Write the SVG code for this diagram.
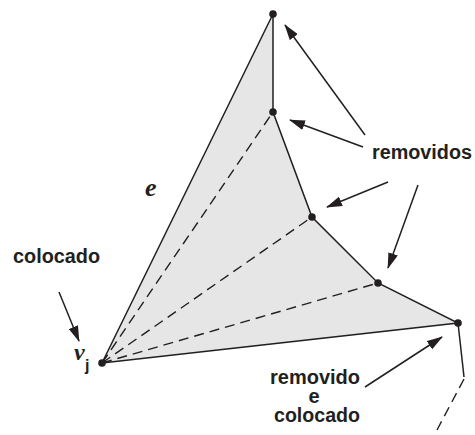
<svg xmlns="http://www.w3.org/2000/svg" width="475" height="435" viewBox="0 0 475 435">
<style>
.edge{stroke:#231f20;stroke-width:1.5;fill:none}
.dash{stroke:#231f20;stroke-width:1.4;fill:none;stroke-dasharray:10 6}
.arr{stroke:#231f20;stroke-width:1.5;fill:none;marker-end:url(#ah)}
.lbl{font-family:"Liberation Sans",Arial,sans-serif;font-weight:bold;font-size:20px;fill:#231f20}
.dot{fill:#231f20}
</style>
<defs>
<marker id="ah" viewBox="0 0 16 10" refX="15" refY="5" markerWidth="16" markerHeight="10" markerUnits="userSpaceOnUse" orient="auto">
<path d="M0,0 L16,5 L0,10 z" fill="#231f20"/>
</marker>
</defs>
<g id="region">
<polygon points="102,363 273,14 273,112 312,217 378,283 458,323" fill="#e6e6e6" stroke="none"/>
</g>
<g id="connectors">
<polyline class="edge" points="102,363 273,14 273,112 312,217 378,283 458,323 102,363"/>
<line class="dash" x1="102" y1="363" x2="273" y2="112"/>
<line class="dash" x1="102" y1="363" x2="312" y2="217"/>
<line class="dash" x1="102" y1="363" x2="378" y2="283"/>
<polyline class="edge" points="458,323 464,377"/>
<line class="dash" x1="464" y1="379" x2="437" y2="430"/>
<line class="arr" x1="365" y1="135" x2="285" y2="25"/>
<line class="arr" x1="363" y1="147" x2="290" y2="120"/>
<line class="arr" x1="388" y1="182" x2="327" y2="207"/>
<line class="arr" x1="418" y1="185" x2="388" y2="268"/>
<line class="arr" x1="59" y1="292" x2="79" y2="341"/>
<line class="arr" x1="365" y1="387" x2="442" y2="337"/>
</g>
<g id="vertices">
<circle class="dot" cx="273" cy="14" r="3.8"/>
<circle class="dot" cx="273" cy="112" r="3.8"/>
<circle class="dot" cx="312" cy="217" r="3.8"/>
<circle class="dot" cx="378" cy="283" r="3.8"/>
<circle class="dot" cx="458" cy="323" r="3.8"/>
<circle class="dot" cx="102" cy="363" r="3.8"/>
</g>
<g id="labels">
<text class="lbl" x="372" y="159" textLength="100" lengthAdjust="spacingAndGlyphs">removidos</text>
<text class="lbl" x="13" y="263" textLength="87" lengthAdjust="spacingAndGlyphs">colocado</text>
<text class="lbl" x="270" y="384" textLength="90" lengthAdjust="spacingAndGlyphs">removido</text>
<text class="lbl" x="314" y="403" text-anchor="middle">e</text>
<text class="lbl" x="274" y="422" textLength="86" lengthAdjust="spacingAndGlyphs">colocado</text>
<text x="145" y="196" font-family="Liberation Serif,serif" font-style="italic" font-weight="bold" font-size="26" fill="#231f20">e</text>
<text x="74" y="360" font-family="Liberation Serif,serif" font-style="italic" font-weight="bold" font-size="24" fill="#231f20">v</text>
<text x="85" y="371" font-family="Liberation Sans,sans-serif" font-weight="bold" font-size="16" fill="#231f20">j</text>
</g>
</svg>
